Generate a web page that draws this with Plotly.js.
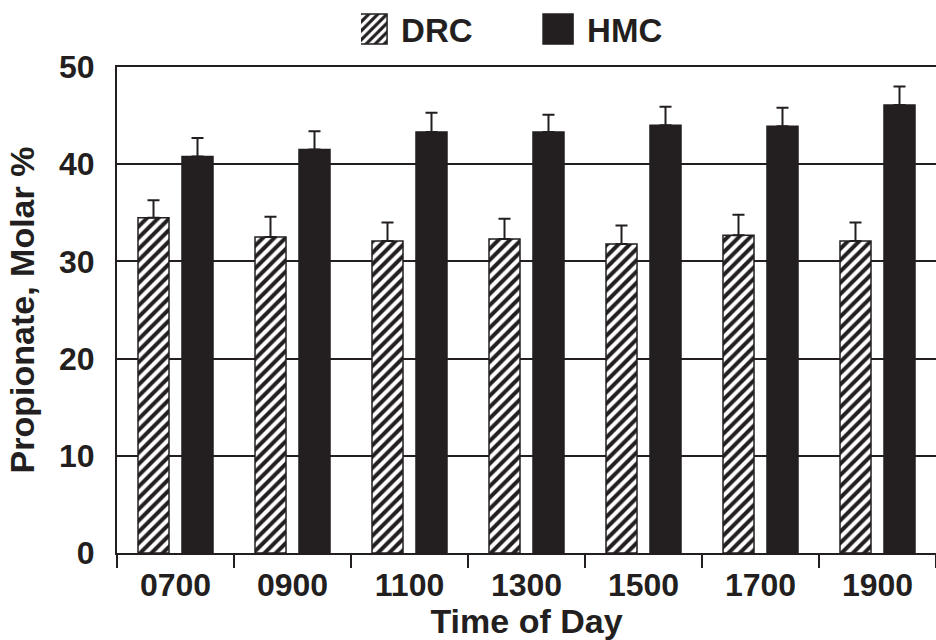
<!DOCTYPE html>
<html>
<head>
<meta charset="utf-8">
<script src="https://cdn.plot.ly/plotly-3.0.1.min.js"></script>
<style>html,body{margin:0;padding:0;background:#fff;}#chart{width:936px;height:640px;}</style>
</head>
<body>
<div id="chart"></div>
<script>
const categories = ["0700", "0900", "1100", "1300", "1500", "1700", "1900"];
const drcValues = [34.5, 32.5, 32.1, 32.3, 31.8, 32.7, 32.1];
const drcErrors = [1.8, 2.1, 1.9, 2.1, 1.9, 2.1, 1.9];
const hmcValues = [40.8, 41.5, 43.3, 43.3, 44.0, 43.9, 46.1];
const hmcErrors = [1.9, 1.9, 2.0, 1.8, 1.9, 1.9, 1.9];
const yTicks = [0, 10, 20, 30, 40, 50];

const fontFam = "Liberation Sans, Arial, sans-serif";
const ink = "#231f20";

const traces = [
  {
    type: "bar", name: "DRC", x: categories, y: drcValues,
    marker: {
      color: "#ffffff",
      pattern: {shape: "/", fgcolor: ink, bgcolor: "#ffffff", size: 8, solidity: 0.5},
      line: {color: ink, width: 1.5}
    },
    error_y: {type: "data", array: drcErrors, symmetric: false, arrayminus: drcErrors.map(() => 0), color: ink, thickness: 2, width: 6}
  },
  {
    type: "bar", name: "HMC", x: categories, y: hmcValues,
    marker: {color: ink, line: {color: ink, width: 1.5}},
    error_y: {type: "data", array: hmcErrors, symmetric: false, arrayminus: hmcErrors.map(() => 0), color: ink, thickness: 2, width: 6}
  }
];

const layout = {
  width: 936, height: 640,
  margin: {l: 117, r: 0, t: 67, b: 87},
  paper_bgcolor: "#fff", plot_bgcolor: "#fff",
  font: {family: fontFam, size: 32, color: ink, weight: "bold"},
  barmode: "group", bargap: 0.248, bargroupgap: 0.295,
  showlegend: true,
  legend: {
    orientation: "h", x: 0.298, xanchor: "left", y: 1.078, yanchor: "middle",
    font: {family: fontFam, size: 33, color: ink, weight: "bold"},
    entrywidth: 141, entrywidthmode: "pixels", bgcolor: "rgba(0,0,0,0)"
  },
  xaxis: {
    type: "category", range: [-0.5, 6.5],
    showline: true, linecolor: ink, linewidth: 2, mirror: true,
    ticks: "outside", tickson: "boundaries", ticklen: 13, tickwidth: 2, tickcolor: ink,
    ticklabelstandoff: 3,
    showgrid: false, zeroline: false,
    tickfont: {family: fontFam, size: 32, color: ink, weight: "bold"},
    title: {text: "Time of Day", font: {family: fontFam, size: 34, color: ink, weight: "bold"}, standoff: 10}
  },
  yaxis: {
    range: [0, 50], tickvals: yTicks, ticktext: yTicks.map(String),
    showline: true, linecolor: ink, linewidth: 2,
    showgrid: true, gridcolor: ink, gridwidth: 2, zeroline: false,
    ticks: "outside", ticklen: 14, tickcolor: "rgba(0,0,0,0)",
    tickfont: {family: fontFam, size: 32, color: ink, weight: "bold"},
    title: {text: "Propionate, Molar %", font: {family: fontFam, size: 34, color: ink, weight: "bold"}, standoff: 14}
  }
};

Plotly.newPlot("chart", traces, layout, {displayModeBar: false, staticPlot: true}).then(function () {
  document.querySelectorAll("#chart .legend .legendpoints path").forEach(function (p) {
    p.setAttribute("d", "M6,15H-24V-15H6Z");
  });
});
</script>
</body>
</html>
